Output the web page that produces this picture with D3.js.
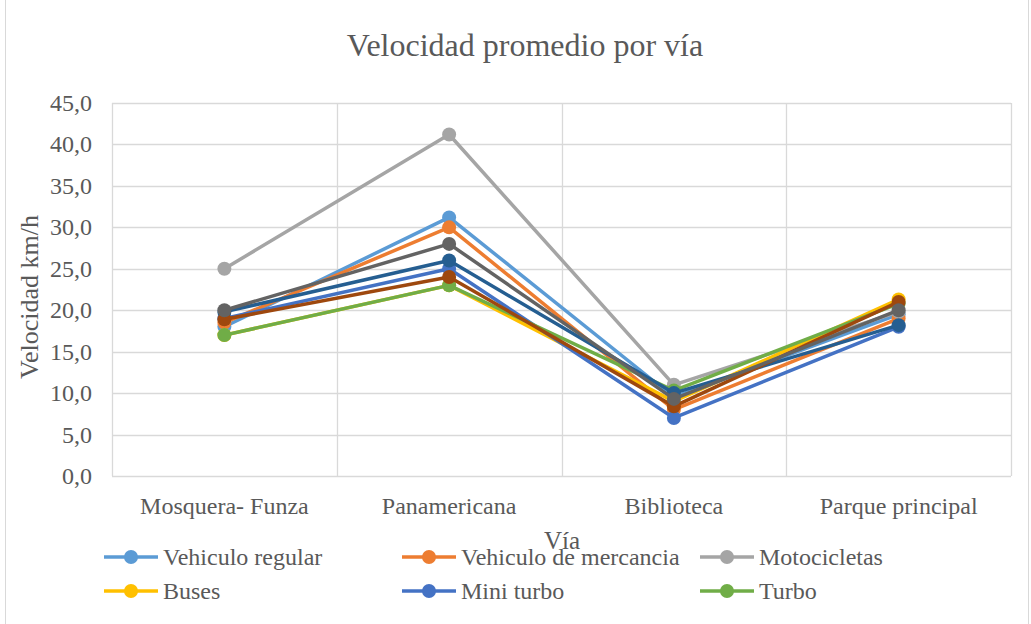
<!DOCTYPE html>
<html>
<head>
<meta charset="utf-8">
<script src="https://cdn.jsdelivr.net/npm/d3@7"></script>
<style>
  body { margin: 0; background: #fff; }
  svg text { font-family: "Liberation Serif", "Times New Roman", serif; fill: #595959; }
</style>
</head>
<body>
<svg id="chart"></svg>
<script>
const width = 1031, height = 624

const categories = ["Mosquera- Funza", "Panamericana", "Biblioteca", "Parque principal"]
const yTicks = [0, 5, 10, 15, 20, 25, 30, 35, 40, 45]

// series in Excel order (last ones drawn on top)
const seriesNames = ["Vehiculo regular", "Vehiculo de mercancia", "Motocicletas", "Buses", "Mini turbo", "Turbo", "Serie 7", "Serie 8", "Serie 9"]
const seriesColors = ["#5b9bd5", "#ed7d31", "#a5a5a5", "#ffc000", "#4472c4", "#70ad47", "#255e91", "#9e480e", "#636363"]
const vehiculoRegular = [18, 31.2, 9.5, 19.5]
const vehiculoMercancia = [18.5, 30, 8, 19]
const motocicletas = [25, 41.2, 11, 19.8]
const buses = [17, 23, 9, 21.3]
const miniTurbo = [19, 25, 7, 18]
const turbo = [17, 23, 10.3, 20.8]
const serie7 = [19.8, 26, 10, 18.2]
const serie8 = [18.9, 24, 8.4, 21]
const serie9 = [20, 28, 9.3, 20]
const seriesValues = [vehiculoRegular, vehiculoMercancia, motocicletas, buses, miniTurbo, turbo, serie7, serie8, serie9]

// only the first six fit in the legend
const legendCount = 6

const margin = {top: 103, left: 112, right: 20, bottom: 148}

const svg = d3.select("#chart").attr("width", width).attr("height", height)

// outer chart border
svg.append("rect")
    .attr("x", 5.5).attr("y", -2).attr("width", width - 8).attr("height", height + 4)
    .attr("fill", "none").attr("stroke", "#d9d9d9").attr("stroke-width", 1)

const x = d3.scaleBand().domain(categories).range([margin.left, width - margin.right])
const y = d3.scaleLinear().domain([0, 45]).range([height - margin.bottom, margin.top])

const grid = svg.append("g")
// horizontal gridlines
grid.selectAll("line.h")
    .data(yTicks)
    .enter().append("line")
    .attr("class", "h")
    .attr("x1", x.range()[0]).attr("x2", x.range()[1])
    .attr("y1", d => Math.round(y(d)) + 0.5).attr("y2", d => Math.round(y(d)) + 0.5)
    .attr("stroke", "#d9d9d9").attr("stroke-width", 1.3)
// vertical gridlines between categories
const bounds = categories.map(c => x(c)).concat([x.range()[1]])
grid.selectAll("line.v")
    .data(bounds)
    .enter().append("line")
    .attr("class", "v")
    .attr("x1", d => Math.round(d) + 0.5).attr("x2", d => Math.round(d) + 0.5)
    .attr("y1", y(45)).attr("y2", y(0))
    .attr("stroke", "#d9d9d9").attr("stroke-width", 1.3)

// y axis tick labels
svg.append("g")
    .selectAll("text")
    .data(yTicks)
    .enter().append("text")
    .attr("x", 92)
    .attr("y", d => y(d) + 8)
    .attr("text-anchor", "end")
    .style("font-size", "24px")
    .text(d => d3.format(".1f")(d).replace(".", ","))

// x axis labels
svg.append("g")
    .selectAll("text")
    .data(categories)
    .enter().append("text")
    .attr("x", d => x(d) + x.bandwidth() / 2)
    .attr("y", 514)
    .attr("text-anchor", "middle")
    .style("font-size", "24px")
    .text(d => d)

// title
svg.append("text")
    .attr("x", 525).attr("y", 56)
    .attr("text-anchor", "middle")
    .style("font-size", "32px")
    .text("Velocidad promedio por vía")

// axis titles
svg.append("text")
    .attr("transform", "translate(38,297) rotate(-90)")
    .attr("text-anchor", "middle")
    .style("font-size", "26px")
    .text("Velocidad km/h")

svg.append("text")
    .attr("x", 562).attr("y", 549)
    .attr("text-anchor", "middle")
    .style("font-size", "25px")
    .text("Vía")

// lines and markers
const line = d3.line()
    .x((d, i) => x(categories[i]) + x.bandwidth() / 2)
    .y(d => y(d))

const seriesG = svg.append("g")
    .selectAll("g")
    .data(seriesValues)
    .enter().append("g")

seriesG.append("path")
    .attr("d", d => line(d))
    .attr("fill", "none")
    .attr("stroke", (d, i) => seriesColors[i])
    .attr("stroke-width", 3.5)
    .attr("stroke-linejoin", "round")

seriesG.each(function(vals, si) {
    d3.select(this).selectAll("circle")
        .data(vals)
        .enter().append("circle")
        .attr("cx", (d, i) => x(categories[i]) + x.bandwidth() / 2)
        .attr("cy", d => y(d))
        .attr("r", 7)
        .attr("fill", seriesColors[si])
})

// legend
const legendCols = [104, 402, 700]
const legendRows = [557, 591]
const legend = svg.append("g")
    .selectAll("g")
    .data(seriesNames.slice(0, legendCount))
    .enter().append("g")
    .attr("transform", (d, i) => `translate(${legendCols[i % 3]},${legendRows[Math.floor(i / 3)]})`)

legend.append("line")
    .attr("x1", 0).attr("x2", 54).attr("y1", 0).attr("y2", 0)
    .attr("stroke", (d, i) => seriesColors[i]).attr("stroke-width", 3.5)
legend.append("circle")
    .attr("cx", 27).attr("cy", 0).attr("r", 7)
    .attr("fill", (d, i) => seriesColors[i])
legend.append("text")
    .attr("x", 59).attr("y", 8)
    .style("font-size", "24px")
    .text(d => d)
</script>
</body>
</html>
